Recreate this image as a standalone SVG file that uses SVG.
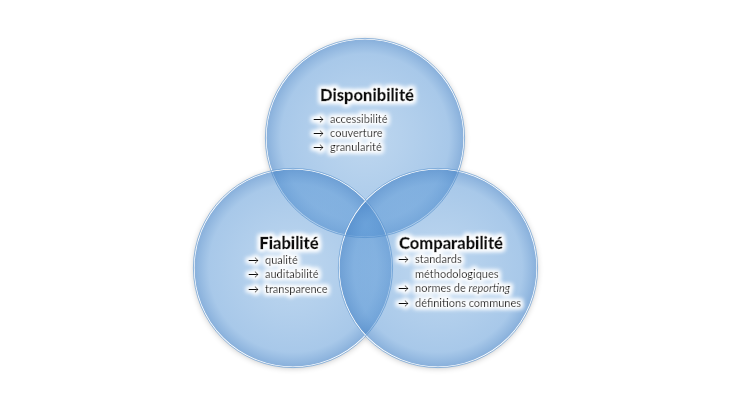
<svg xmlns="http://www.w3.org/2000/svg" width="730" height="410" viewBox="0 0 730 410">
  <defs>
    <radialGradient id="g" cx="50%" cy="50%" r="50%">
      <stop offset="0%" stop-color="#6fa6dc" stop-opacity="0.45"/>
      <stop offset="85%" stop-color="#5b98d6" stop-opacity="0.53"/>
      <stop offset="100%" stop-color="#4a86c8" stop-opacity="0.66"/>
    </radialGradient>
    <filter id="shadow" x="-20%" y="-20%" width="140%" height="140%">
      <feGaussianBlur in="SourceAlpha" stdDeviation="3"/>
      <feOffset dx="0" dy="1" result="b"/>
      <feComponentTransfer><feFuncA type="linear" slope="0.25"/></feComponentTransfer>
      <feMerge><feMergeNode/><feMergeNode in="SourceGraphic"/></feMerge>
    </filter>
    <filter id="glow" x="-20%" y="-40%" width="140%" height="180%">
      <feMorphology in="SourceAlpha" operator="dilate" radius="1.8" result="d"/>
      <feGaussianBlur in="d" stdDeviation="2.2" result="b"/>
      <feFlood flood-color="#ffffff" flood-opacity="0.95"/>
      <feComposite in2="b" operator="in" result="w"/>
      <feMerge><feMergeNode in="w"/><feMergeNode in="w"/><feMergeNode in="SourceGraphic"/></feMerge>
    </filter>
  </defs>
  <style>
    .c { fill: url(#g); stroke: #ffffff; stroke-width: 1.2; }
    .o { fill: none; stroke: #4f8ccb; stroke-width: 1; stroke-opacity: 0.6; }
    .t { font-family: Lato, "Open Sans", sans-serif; font-weight: 900; font-size: 16.5px; fill: #0a0a0a; stroke: #0a0a0a; stroke-width: 0.35; text-anchor: middle; }
    .i { font-family: Lato, "Open Sans", sans-serif; font-size: 11px; fill: #0a0a0a; stroke: #0a0a0a; stroke-width: 0.15; }
  </style>
  <rect width="730" height="410" fill="#ffffff"/>
  <g id="shadows" filter="url(#shadow)">
    <circle cx="365" cy="138" r="99" fill="#ffffff"/>
    <circle cx="293" cy="268" r="99" fill="#ffffff"/>
    <circle cx="438" cy="268" r="99" fill="#ffffff"/>
  </g>
  <g id="circles">
    <circle cx="365" cy="138" r="99" class="c"/>
    <circle cx="293" cy="268" r="99" class="c"/>
    <circle cx="438" cy="268" r="99" class="c"/>
    <circle cx="365" cy="138" r="99.6" class="o"/>
    <circle cx="293" cy="268" r="99.6" class="o"/>
    <circle cx="438" cy="268" r="99.6" class="o"/>
  </g>
  <g id="disponibilite" filter="url(#glow)">
    <text x="367" y="101" class="t">Disponibilité</text>
    <text class="i" x="313" y="123">→ <tspan x="330">accessibilité</tspan></text>
    <text class="i" x="313" y="137">→ <tspan x="330">couverture</tspan></text>
    <text class="i" x="313" y="151">→ <tspan x="330">granularité</tspan></text>
  </g>
  <g id="fiabilite" filter="url(#glow)">
    <text x="289" y="249" class="t">Fiabilité</text>
    <text class="i" x="248" y="264">→ <tspan x="265">qualité</tspan></text>
    <text class="i" x="248" y="278">→ <tspan x="265">auditabilité</tspan></text>
    <text class="i" x="248" y="293">→ <tspan x="265">transparence</tspan></text>
  </g>
  <g id="comparabilite" filter="url(#glow)">
    <text x="451" y="249" class="t">Comparabilité</text>
    <text class="i" x="398" y="263">→ <tspan x="415">standards</tspan></text>
    <text class="i" x="415" y="278">méthodologiques</text>
    <text class="i" x="398" y="292">→ <tspan x="415">normes de <tspan font-style="italic">reporting</tspan></tspan></text>
    <text class="i" x="398" y="307">→ <tspan x="415">définitions communes</tspan></text>
  </g>
  <g id="connectors"/>
</svg>
